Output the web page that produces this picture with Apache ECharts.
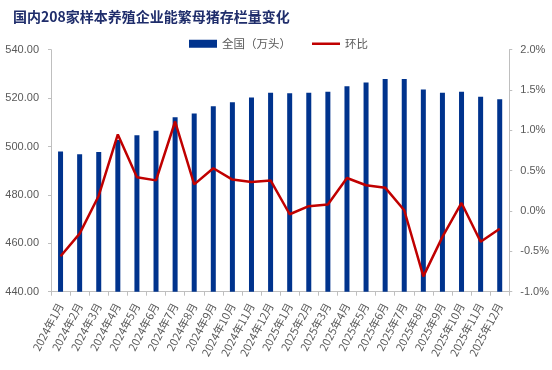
<!DOCTYPE html>
<html>
<head>
<meta charset="utf-8">
<script src="https://cdn.jsdelivr.net/npm/echarts@6/dist/echarts.min.js"></script>
<style>html,body{margin:0;padding:0;background:#fff}#c{width:552px;height:370px}</style>
</head>
<body>
<div id="c"></div>
<script>
var categories = ['2024年1月','2024年2月','2024年3月','2024年4月','2024年5月','2024年6月','2024年7月','2024年8月','2024年9月','2024年10月','2024年11月','2024年12月','2025年1月','2025年2月','2025年3月','2025年4月','2025年5月','2025年6月','2025年7月','2025年8月','2025年9月','2025年10月','2025年11月','2025年12月'];
var stockValues = [497.9, 496.8, 497.7, 502.7, 504.6, 506.5, 512.1, 513.6, 516.6, 518.3, 520.2, 522.2, 522.0, 522.2, 522.6, 524.9, 526.4, 527.9, 527.9, 523.6, 522.2, 522.6, 520.6, 519.5];
var momValues = [-0.56, -0.28, 0.19, 0.95, 0.42, 0.38, 1.11, 0.33, 0.53, 0.39, 0.36, 0.38, -0.04, 0.06, 0.08, 0.41, 0.32, 0.29, 0.01, -0.81, -0.32, 0.10, -0.38, -0.22];

var chart = echarts.init(document.getElementById('c'), null, {renderer: 'canvas'});
var gray = '#595959';
var axisGray = '#bfbfbf';
chart.setOption({
  animation: false,
  backgroundColor: '#fff',
  title: {
    text: '国内208家样本养殖企业能繁母猪存栏量变化',
    left: 8, top: 5,
    textStyle: {fontSize: 14, fontWeight: 'bold', color: '#1f2d6b', fontFamily: 'Noto Sans CJK SC'}
  },
  legend: {
    left: 184, top: 33,
    itemWidth: 28, itemHeight: 8, itemGap: 21,
    textStyle: {fontSize: 11.5, color: gray, fontFamily: 'Noto Sans CJK SC'},
    data: [{name: '全国（万头）', icon: 'rect'}, {name: '环比', icon: 'path://M0,0 L28,0 L28,2.5 L0,2.5 Z'}]
  },
  grid: {left: 51, right: 41, top: 49.7, bottom: 78.3, containLabel: false},
  xAxis: {
    type: 'category',
    data: categories,
    axisLine: {onZero: false, lineStyle: {color: axisGray}},
    axisTick: {show: true, length: 4, lineStyle: {color: axisGray}},
    axisLabel: {rotate: 62, interval: 0, fontSize: 11, color: gray, margin: 12, fontFamily: 'Noto Sans CJK SC'}
  },
  yAxis: [{
    type: 'value', min: 440, max: 540, interval: 20,
    axisLine: {show: true, lineStyle: {color: axisGray}},
    axisTick: {show: true, length: 3, lineStyle: {color: axisGray}},
    splitLine: {show: false},
    axisLabel: {color: gray, fontSize: 11, margin: 12, fontFamily: 'Liberation Sans', formatter: function (v) { return v.toFixed(2); }}
  }, {
    type: 'value', min: -1.0, max: 2.0, interval: 0.5,
    axisLine: {show: true, lineStyle: {color: axisGray}},
    axisTick: {show: true, length: 3, lineStyle: {color: axisGray}},
    splitLine: {show: false},
    axisLabel: {color: gray, fontSize: 11, margin: 11, fontFamily: 'Liberation Sans', formatter: function (v) { return v.toFixed(1) + '%'; }}
  }],
  series: [{
    name: '全国（万头）',
    type: 'bar',
    data: stockValues,
    barWidth: 5,
    itemStyle: {color: '#00338d'},
    yAxisIndex: 0
  }, {
    name: '环比',
    type: 'line',
    data: momValues,
    yAxisIndex: 1,
    symbol: 'none',
    lineStyle: {color: '#c00000', width: 2.5},
    itemStyle: {color: '#c00000'}
  }]
});
</script>
</body>
</html>
